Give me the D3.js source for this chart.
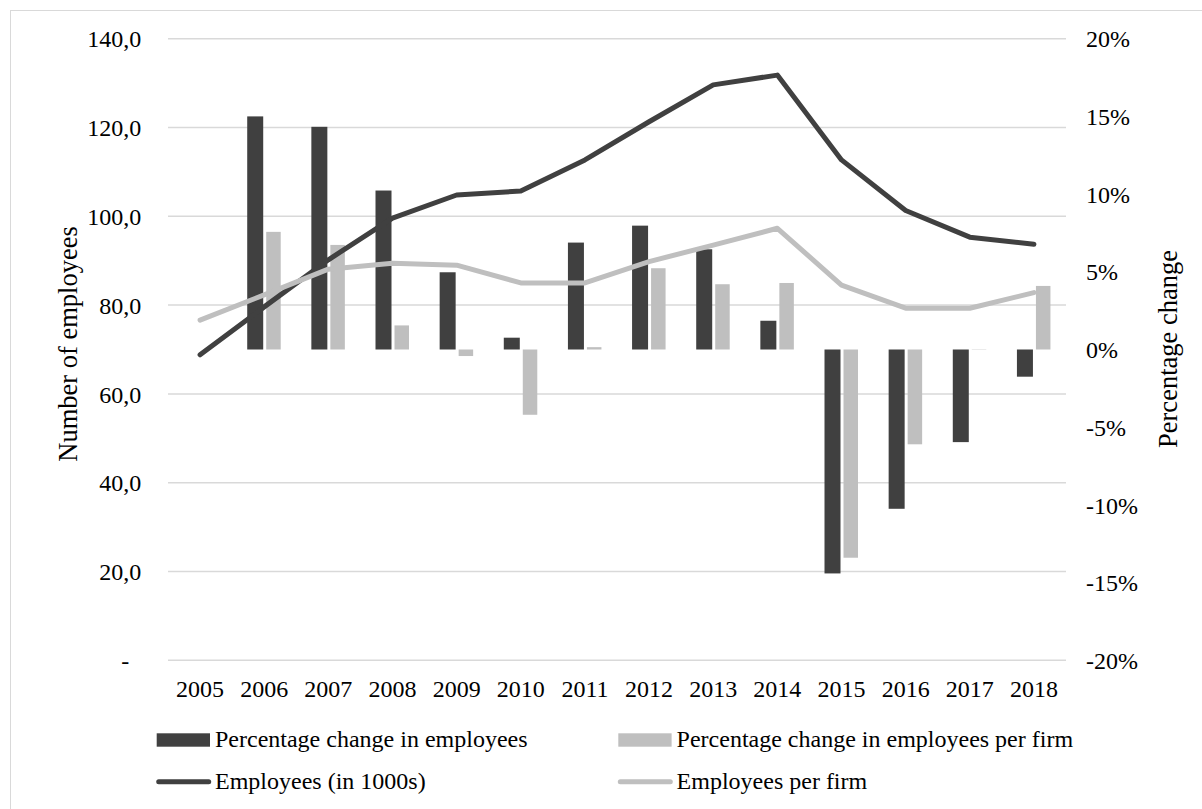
<!DOCTYPE html>
<html>
<head>
<meta charset="utf-8">
<script src="https://cdn.jsdelivr.net/npm/d3@7"></script>
<style>
  html, body { margin: 0; padding: 0; background: #fff; }
  svg { display: block; }
  text { font-family: "Liberation Serif", "Times New Roman", serif; fill: #000; }
</style>
</head>
<body>
<svg id="chart" width="1202" height="809"></svg>
<script>
// Years on the category axis
const years = ["2005","2006","2007","2008","2009","2010","2011","2012","2013","2014","2015","2016","2017","2018"];

// Percentage change in employees (right axis, %)
const pctEmployees = [null, 15.0, 14.33, 10.23, 4.97, 0.76, 6.88, 7.97, 6.45, 1.85, -14.41, -10.25, -5.96, -1.75];
// Percentage change in employees per firm (right axis, %)
const pctPerFirm = [null, 7.57, 6.73, 1.55, -0.42, -4.2, 0.15, 5.23, 4.2, 4.28, -13.4, -6.1, 0.02, 4.09];

// Employees in 1000s (left axis)
const employees = [68.8, 79.6, 90.2, 99.6, 104.8, 105.7, 112.7, 121.3, 129.6, 131.8, 112.7, 101.3, 95.3, 93.7];
// Employees per firm (left axis)
const perFirm = [76.6, 82.3, 88.1, 89.4, 89.0, 85.0, 85.0, 89.8, 93.5, 97.3, 84.5, 79.3, 79.3, 82.8];

// Tick values
const leftTicks = [0, 20, 40, 60, 80, 100, 120, 140];
const rightTicks = [-20, -15, -10, -5, 0, 5, 10, 15, 20];

const legendLabels = [
  "Percentage change in employees",
  "Percentage change in employees per firm",
  "Employees (in 1000s)",
  "Employees per firm"
];

const DARK = "#404040", LIGHT = "#bfbfbf", GRID = "#d9d9d9";

const svg = d3.select("#chart");

// outer frame
svg.append("rect")
  .attr("x", 10.5).attr("y", 10.5)
  .attr("width", 1200).attr("height", 810)
  .attr("fill", "none").attr("stroke", GRID).attr("stroke-width", 1);

const plotLeft = 168, plotRight = 1066, plotTop = 38.7, plotBottom = 660.3;

const x = d3.scaleBand().domain(years).range([plotLeft, plotRight]).paddingInner(0).paddingOuter(0);
const yL = d3.scaleLinear().domain([0, 140]).range([plotBottom, plotTop]);
const yR = d3.scaleLinear().domain([-20, 20]).range([plotBottom, plotTop]);

// gridlines
svg.append("g").selectAll("line").data(leftTicks).join("line")
  .attr("x1", plotLeft).attr("x2", plotRight)
  .attr("y1", d => yL(d)).attr("y2", d => yL(d))
  .attr("stroke", GRID).attr("stroke-width", 1.5);

// left axis
const fmtLeft = d => d === 0 ? "-\u00a0\u00a0" : d.toFixed(1).replace(".", ",");
const gL = svg.append("g").attr("transform", `translate(${plotLeft},0)`)
  .call(d3.axisLeft(yL).tickValues(leftTicks).tickFormat(fmtLeft).tickSize(0).tickPadding(26.7));
gL.select(".domain").remove();
gL.selectAll("text").style("font-size", "24px").style("font-family", "Liberation Serif").attr("fill", "#000").attr("dy", "0.34em");

// right axis
const gR = svg.append("g").attr("transform", `translate(${plotRight},0)`)
  .call(d3.axisRight(yR).tickValues(rightTicks).tickFormat(d => Math.round(d) + "%").tickSize(0).tickPadding(20));
gR.select(".domain").remove();
gR.selectAll("text").style("font-size", "24px").style("font-family", "Liberation Serif").attr("fill", "#000").attr("dy", "0.34em");

// bottom axis
const gB = svg.append("g").attr("transform", `translate(0,${plotBottom})`)
  .call(d3.axisBottom(x).tickSize(0).tickPadding(19.7));
gB.select(".domain").remove();
gB.selectAll("text").style("font-size", "24px").style("font-family", "Liberation Serif").attr("fill", "#000");

// bars
const cx = d => x(d) + x.bandwidth() / 2;
const barData1 = years.map((y, i) => ({ y, v: pctEmployees[i] })).filter(d => d.v !== null);
const barData2 = years.map((y, i) => ({ y, v: pctPerFirm[i] })).filter(d => d.v !== null);

svg.append("g").selectAll("rect").data(barData1).join("rect")
  .attr("x", d => cx(d.y) - 17)
  .attr("width", 16)
  .attr("y", d => Math.min(yR(d.v), yR(0)))
  .attr("height", d => Math.abs(yR(d.v) - yR(0)))
  .attr("fill", DARK);

svg.append("g").selectAll("rect").data(barData2).join("rect")
  .attr("x", d => cx(d.y) + 2)
  .attr("width", 14.5)
  .attr("y", d => Math.min(yR(d.v), yR(0)))
  .attr("height", d => Math.abs(yR(d.v) - yR(0)))
  .attr("fill", LIGHT);

// lines
const line = d3.line().x(d => cx(d.y)).y(d => yL(d.v));
svg.append("path")
  .datum(years.map((y, i) => ({ y, v: employees[i] })))
  .attr("d", line).attr("fill", "none").attr("stroke", DARK)
  .attr("stroke-width", 5).attr("stroke-linecap", "round").attr("stroke-linejoin", "round");
svg.append("path")
  .datum(years.map((y, i) => ({ y, v: perFirm[i] })))
  .attr("d", line).attr("fill", "none").attr("stroke", LIGHT)
  .attr("stroke-width", 5).attr("stroke-linecap", "round").attr("stroke-linejoin", "round");

// axis titles
svg.append("text")
  .attr("transform", "translate(76.7,344) rotate(-90)")
  .attr("text-anchor", "middle")
  .style("font-size", "26.5px")
  .text("Number of employees");
svg.append("text")
  .attr("transform", "translate(1176.7,349) rotate(-90)")
  .attr("text-anchor", "middle")
  .style("font-size", "26.5px")
  .text("Percentage change");

// legend
const lg = svg.append("g");
const legendItems = [
  { label: legendLabels[0], kind: "bar", color: DARK, x: 156.7, y: 740 },
  { label: legendLabels[1], kind: "bar", color: LIGHT, x: 618.3, y: 740 },
  { label: legendLabels[2], kind: "line", color: DARK, x: 156.7, y: 781.7 },
  { label: legendLabels[3], kind: "line", color: LIGHT, x: 618.3, y: 781.7 }
];
legendItems.forEach(it => {
  if (it.kind === "bar") {
    lg.append("rect").attr("x", it.x).attr("y", it.y - 6.7).attr("width", 53.3).attr("height", 13.4).attr("fill", it.color);
  } else {
    lg.append("line").attr("x1", it.x + 2).attr("x2", it.x + 52).attr("y1", it.y).attr("y2", it.y)
      .attr("stroke", it.color).attr("stroke-width", 5).attr("stroke-linecap", "round");
  }
  lg.append("text").attr("x", it.x + 58.3).attr("y", it.y + 7.3).style("font-size", "24px").text(it.label);
});
</script>
</body>
</html>
